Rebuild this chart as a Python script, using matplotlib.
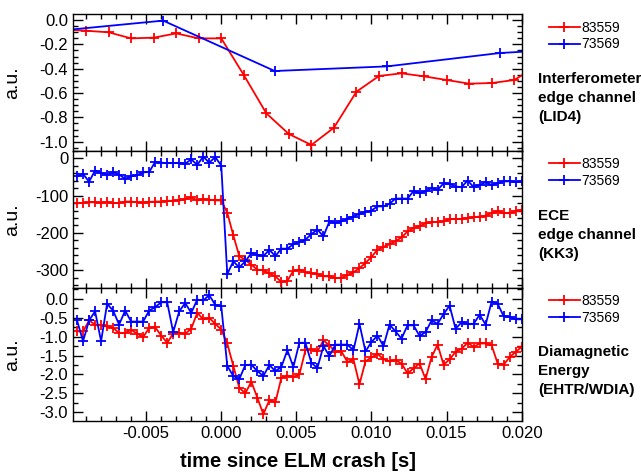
import matplotlib
matplotlib.use("Agg")
import matplotlib.pyplot as plt
from matplotlib.ticker import MultipleLocator, FormatStrFormatter

plt.rcParams['font.family'] = ['Liberation Sans', 'DejaVu Sans']
plt.rcParams['axes.unicode_minus'] = False

shots = ["83559", "73569"]
colors = ["#ff0000", "#0000ff"]

# -------- interferometer (LID4) --------
lid_t_red = [-0.0105, -0.009, -0.0075, -0.006, -0.0045, -0.003, -0.0015, 0.0,
             0.0015, 0.003, 0.0045, 0.006, 0.0075, 0.009, 0.0105, 0.012,
             0.0135, 0.015, 0.0165, 0.018, 0.0195, 0.021]
lid_red = [-0.078, -0.088, -0.101, -0.151, -0.145, -0.110, -0.151, -0.151,
           -0.452, -0.767, -0.937, -1.027, -0.885, -0.589, -0.460, -0.438,
           -0.463, -0.493, -0.523, -0.518, -0.493, -0.38]
lid_t_blue = [-0.0114, -0.00387, 0.00356, 0.01104, 0.01856, 0.026]
lid_blue = [-0.095, -0.005, -0.419, -0.381, -0.271, -0.22]

# -------- ECE (KK3) and diamagnetic energy: common time base --------
t_fast = [round(0.0004 * k, 4) for k in range(-24, 51)]

ece_red = [-120, -120, -118, -118, -119, -118, -120, -120, -116, -116,
           -118, -119, -117, -116, -116, -114, -114, -113, -110, -105,
           -113, -110, -111, -113, -113,
           -146, -206, -262, -272, -285, -298, -300, -308, -316, -331,
           -328, -301, -298, -305, -308, -310, -316, -316, -321, -320,
           -312, -305, -294, -280, -264,
           -245, -237, -230, -222, -212, -196, -187, -182, -174, -171,
           -171, -169, -163, -163, -162, -160, -158, -156, -154, -147,
           -142, -147, -147, -142, -139]
ece_blue = [-49, -42, -63, -33, -40, -44, -38, -44, -55, -49,
            -45, -38, -37, -10, -12, -13, -13, -13, -15, -3,
            -18, 4, -12, 3, -20,
            -310, -276, -292, -276, -254, -258, -262, -245, -262, -242,
            -242, -230, -224, -218, -203, -191, -209, -169, -173, -169,
            -162, -156, -149, -144, -140,
            -129, -129, -122, -108, -108, -108, -88, -93, -88, -80,
            -85, -67, -69, -76, -77, -60, -77, -72, -64, -72,
            -67, -62, -62, -64, -62]

wdia_red = [-0.86, -0.86, -0.57, -0.68, -0.70, -0.73, -0.77, -0.90, -0.90, -0.82,
            -0.92, -1.01, -0.77, -0.75, -0.97, -1.16, -0.92, -0.90, -0.92, -0.79,
            -0.37, -0.54, -0.50, -0.66, -0.81,
            -1.18, -1.77, -2.35, -2.50, -2.19, -2.61, -3.05, -2.68, -2.74, -2.09,
            -2.04, -2.06, -2.00, -1.36, -1.33, -1.39, -1.10, -1.23, -1.40, -1.39,
            -1.67, -1.60, -2.26, -1.65, -1.55,
            -1.45, -1.60, -1.65, -1.62, -1.71, -1.97, -1.84, -1.71, -2.12, -1.54,
            -1.21, -1.74, -1.60, -1.40, -1.32, -1.16, -1.27, -1.18, -1.18, -1.23,
            -1.71, -1.74, -1.54, -1.40, -1.27]
wdia_blue = [-0.57, -1.12, -0.57, -0.33, -1.12, -0.13, -0.31, -0.68, -0.31, -0.60,
             -0.60, -0.60, -0.31, -0.22, -0.09, -0.09, -0.88, -0.33, -0.11, -0.37,
             -0.02, -0.04, 0.10, -0.16, -0.19,
             -1.77, -2.04, -2.12, -1.75, -1.74, -1.91, -2.04, -1.75, -1.91, -1.80,
             -1.36, -1.80, -1.16, -1.16, -1.69, -1.83, -1.25, -1.51, -1.21, -1.21,
             -1.21, -1.36, -0.66, -1.39, -1.14,
             -0.97, -1.25, -0.68, -0.86, -1.05, -0.70, -0.70, -0.98, -0.88, -0.57,
             -0.66, -0.40, -0.18, -0.79, -0.62, -0.66, -0.66, -0.42, -0.68, -0.07,
             -0.13, -0.46, -0.48, -0.54, -0.54]

descriptions = ["Interferometer\nedge channel\n(LID4)",
                "ECE\nedge channel\n(KK3)",
                "Diamagnetic\nEnergy\n(EHTR/WDIA)"]

fig = plt.figure(figsize=(6.41, 4.74), dpi=100)
W, H = 641.0, 474.0
left, right = 73 / W, 522 / W
edges = [14.3, 150.7, 288.3, 421.0]
axes = []
for i in range(3):
    y0 = 1 - edges[i + 1] / H
    h = (edges[i + 1] - edges[i]) / H
    axes.append(fig.add_axes([left, y0, right - left, h]))

kw = dict(marker="+", markersize=7, markeredgewidth=1.3, linewidth=1.3)

ax = axes[0]
ax.plot(lid_t_red, lid_red, color=colors[0], label=shots[0], **kw)
ax.plot(lid_t_blue, lid_blue, color=colors[1], label=shots[1], **kw)
ax.set_ylim(-1.074, 0.047)
ax.yaxis.set_major_locator(MultipleLocator(0.2))
ax.yaxis.set_minor_locator(MultipleLocator(0.05))
ax.yaxis.set_major_formatter(FormatStrFormatter("%.1f"))

ax = axes[1]
ax.plot(t_fast, ece_red, color=colors[0], label=shots[0], **kw)
ax.plot(t_fast, ece_blue, color=colors[1], label=shots[1], **kw)
ax.set_ylim(-348, 20)
ax.yaxis.set_major_locator(MultipleLocator(100))
ax.yaxis.set_minor_locator(MultipleLocator(20))
ax.yaxis.set_major_formatter(FormatStrFormatter("%d"))

ax = axes[2]
ax.plot(t_fast, wdia_red, color=colors[0], label=shots[0], **kw)
ax.plot(t_fast, wdia_blue, color=colors[1], label=shots[1], **kw)
ax.set_ylim(-3.23, 0.28)
ax.yaxis.set_major_locator(MultipleLocator(0.5))
ax.yaxis.set_minor_locator(MultipleLocator(0.25))
ax.yaxis.set_major_formatter(FormatStrFormatter("%.1f"))

leg_y = [29.0, 165.0, 302.0]
desc_y = [98.0, 235.0, 371.0]
for i, ax in enumerate(axes):
    ax.set_xlim(-0.00987, 0.02002)
    ax.xaxis.set_major_locator(MultipleLocator(0.005))
    ax.xaxis.set_minor_locator(MultipleLocator(0.001))
    ax.xaxis.set_major_formatter(FormatStrFormatter("%.3f"))
    ax.tick_params(which="both", direction="in", top=True, right=True,
                   labelsize=12, width=1.0)
    ax.tick_params(which="major", length=7)
    ax.tick_params(which="minor", length=3.5)
    if i < 2:
        ax.tick_params(labelbottom=False)
    for sp in ax.spines.values():
        sp.set_linewidth(1.0)
    ax.set_ylabel("a.u.", fontsize=14)
    ax.yaxis.set_label_coords(-0.115, 0.5)
    leg = ax.legend(loc="upper left", frameon=False, fontsize=10,
                    handlelength=2.2, handletextpad=0.1, labelspacing=0.18,
                    numpoints=1, borderaxespad=0, borderpad=0)
    leg.set_bbox_to_anchor((549 / W, 1 - (leg_y[i] - 8) / H), transform=fig.transFigure)
    fig.text(538 / W, 1 - desc_y[i] / H, descriptions[i], fontsize=11,
             fontweight="bold", va="center", ha="left", linespacing=1.45)

axes[2].set_xlabel("time since ELM crash [s]", fontsize=14.5, fontweight="bold",
                   labelpad=8)

fig.savefig("out.png", dpi=100)
